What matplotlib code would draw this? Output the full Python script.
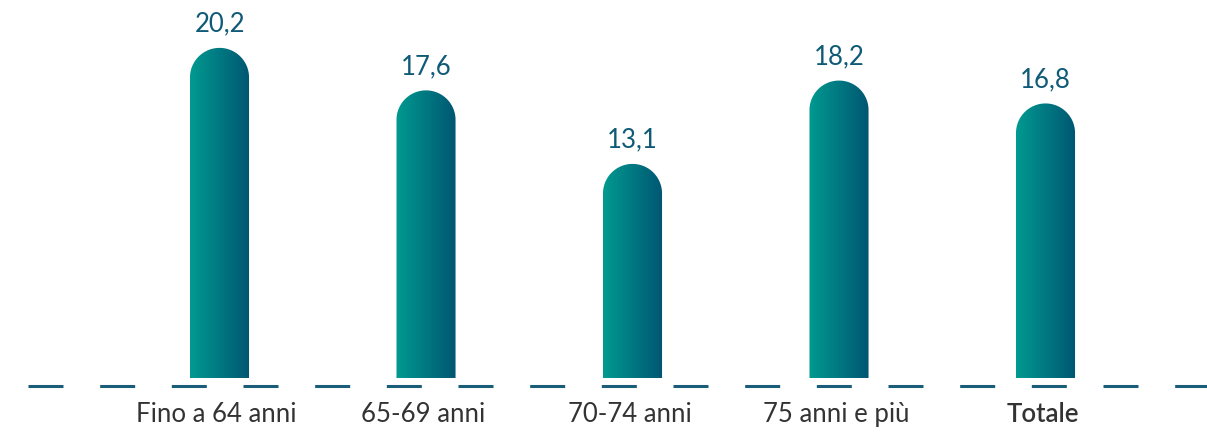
import numpy as np
import matplotlib
matplotlib.use('Agg')
from matplotlib import pyplot as plt
from matplotlib.colors import LinearSegmentedColormap
from matplotlib.patches import Polygon

# Data
categories = ['Fino a 64 anni', '65-69 anni', '70-74 anni', '75 anni e più', 'Totale']
values = [20.2, 17.6, 13.1, 18.2, 16.8]
value_labels = ['20,2', '17,6', '13,1', '18,2', '16,8']

# Style
FIG_W, FIG_H, DPI = 1207, 432, 100
BAR_W = 0.286
LEFT_COLOR = '#009a90'
RIGHT_COLOR = '#005672'
LABEL_COLOR = '#0f5a76'
TICK_COLOR = '#333333'
DASH_COLOR = '#1a5d79'

plt.rcParams['font.family'] = ['Lato', 'DejaVu Sans']
plt.rcParams['lines.scale_dashes'] = False

fig = plt.figure(figsize=(FIG_W / DPI, FIG_H / DPI), dpi=DPI)
ax = fig.add_axes([0, 0, 1, 1])
ax.set_xlim(-1.063, 4.782)
ax.set_ylim(-3.305, 23.13)
ax.axis('off')

cmap = LinearSegmentedColormap.from_list('bar', [LEFT_COLOR, RIGHT_COLOR])
grad = np.linspace(0, 1, 256).reshape(1, -1)

# radius of the rounded cap in data units (circle on screen)
px_x = FIG_W / (ax.get_xlim()[1] - ax.get_xlim()[0])
px_y = FIG_H / (ax.get_ylim()[1] - ax.get_ylim()[0])
rx = BAR_W / 2
ry = rx * px_x / px_y

for i, (v, lab) in enumerate(zip(values, value_labels)):
    x0, x1 = i - rx, i + rx
    t = np.linspace(np.pi, 0, 60)
    arc = np.column_stack([i + rx * np.cos(t), v - ry + ry * np.sin(t)])
    pts = np.vstack([[x0, 0], arc, [x1, 0]])
    clip = Polygon(pts, closed=True, facecolor='none', edgecolor='none')
    ax.add_patch(clip)
    im = ax.imshow(grad, cmap=cmap, aspect='auto', extent=[x0, x1, 0, v],
                   interpolation='bicubic', zorder=2)
    im.set_clip_path(clip)
    ax.annotate(lab, (i, v), xytext=(0, 17), textcoords='offset points',
                ha='center', va='center', fontsize=18.5, color=LABEL_COLOR)
    ax.text(i - 0.015, -2.26, categories[i], ha='center', va='center', fontsize=18.5,
            color=TICK_COLOR, fontweight='semibold' if i == len(values) - 1 else 'normal')

# dashed baseline
ax.plot([-0.927, 4.782], [-0.49, -0.49], color=DASH_COLOR, lw=2.2,
        dashes=(25.2, 26.4), solid_capstyle='butt', dash_capstyle='butt')

fig.savefig('out.png', dpi=DPI)
